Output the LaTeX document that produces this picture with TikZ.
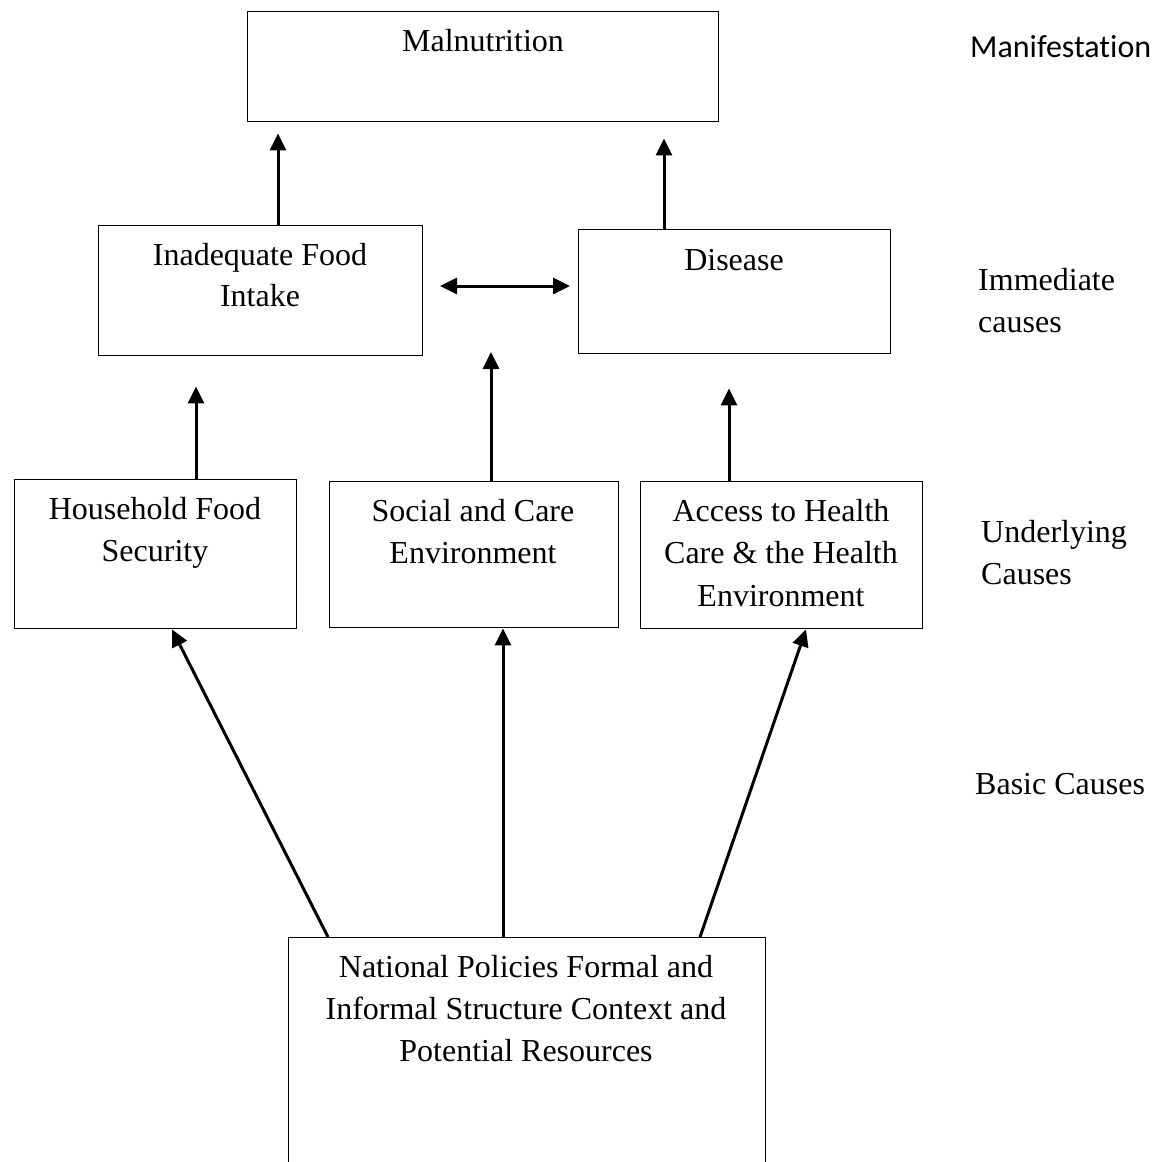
\documentclass[tikz,border=0pt]{standalone}
\usepackage{fontspec}
\setmainfont{Liberation Serif}
\newfontfamily\calib[Ligatures=NoCommon]{Carlito}
\usetikzlibrary{arrows.meta}
\begin{document}
\begin{tikzpicture}[x=1pt,y=-1pt,
  boxn/.style={draw,line width=1.4pt,rectangle,inner sep=0pt,anchor=north west},
  txt/.style={font=\fontsize{32}{42}\selectfont,anchor=base,inner sep=0pt},
  lab/.style={font=\fontsize{32}{42}\selectfont,anchor=base west,inner sep=0pt},
  slab/.style={font=\calib\fontsize{32}{42}\selectfont,anchor=base west,inner sep=0pt},
  arr/.style={line width=3pt,-{Triangle[length=17pt,width=16pt]}},
  darr/.style={line width=3pt,{Triangle[length=17pt,width=16pt]}-{Triangle[length=17pt,width=16pt]}}]
\useasboundingbox (0,0) rectangle (1158,1162);
\fill[white] (0,0) rectangle (1158,1162);
% boxes
\node[boxn,minimum width=471pt,minimum height=110pt] (mal) at (247,11) {};
\node[boxn,minimum width=324pt,minimum height=130pt] (ifi) at (98,225) {};
\node[boxn,minimum width=312pt,minimum height=124pt] (dis) at (578,229) {};
\node[boxn,minimum width=282pt,minimum height=149pt] (hfs) at (14,479) {};
\node[boxn,minimum width=289pt,minimum height=146pt] (sce) at (329,481) {};
\node[boxn,minimum width=282pt,minimum height=147pt] (ahc) at (640,481) {};
\node[boxn,minimum width=477pt,minimum height=280pt] (nat) at (288,937) {};
% texts
\node[txt] (t1) at (483,51) {Malnutrition};
\node[txt] (t2) at (260,265) {Inadequate Food};
\node[txt] (t3) at (260,306) {Intake};
\node[txt] (t4) at (734,270) {Disease};
\node[txt] (t5) at (155,519) {Household Food};
\node[txt] (t6) at (155,561) {Security};
\node[txt] (t7) at (473,521) {Social and Care};
\node[txt] (t8) at (473,563) {Environment};
\node[txt] (t9) at (781,521) {Access to Health};
\node[txt] (t10) at (781,563) {Care \& the Health};
\node[txt] (t11) at (781,606) {Environment};
\node[txt] (t12) at (526,977) {National Policies Formal and};
\node[txt] (t13) at (526,1019) {Informal Structure Context and};
\node[txt] (t14) at (526,1061) {Potential Resources};
% side labels
\node[slab] (l1) at (970,57) {Manifestation};
\node[lab] (l2) at (978,290) {Immediate};
\node[lab] (l3) at (978,332) {causes};
\node[lab] (l4) at (981,542) {Underlying};
\node[lab] (l5) at (981,584) {Causes};
\node[lab] (l6) at (975,794) {Basic Causes};
% free-end coordinates
\coordinate (c1) at (491,352);
\coordinate (dl) at (440,286);
\coordinate (dr) at (570,286);
% connectors
\draw[arr,shorten >=11pt] (ifi.north -| 278,0) -- (mal.south -| 278,0);
\draw[arr,shorten >=16pt] (dis.north -| 664,0) -- (mal.south -| 664,0);
\draw[darr] (dl) -- (dr);
\draw[arr,shorten >=30pt] (hfs.north -| 196,0) -- (ifi.south -| 196,0);
\draw[arr] (sce.north -| c1) -- (c1);
\draw[arr,shorten >=34pt] (ahc.north -| 729,0) -- (dis.south -| 729,0);
\draw[arr] (nat.north -| 328,0) -- (hfs.south -| 172,0);
\draw[arr] (nat.north -| 503,0) -- (sce.south -| 503,0);
\draw[arr] (nat.north -| 700,0) -- (ahc.south -| 806,0);
\end{tikzpicture}
\end{document}
